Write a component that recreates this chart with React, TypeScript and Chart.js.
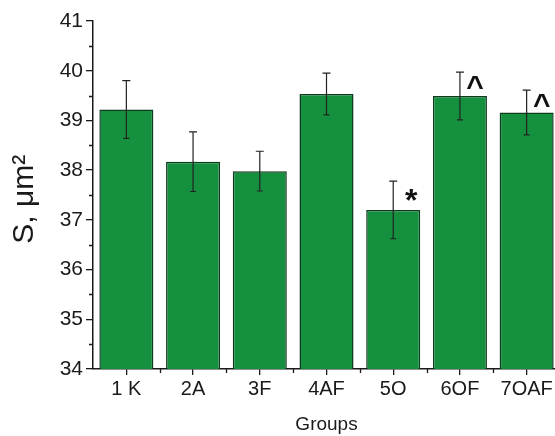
import React, { useEffect, useRef } from "react";
import { Chart, registerables } from "chart.js";

Chart.register(...registerables);

const categories = ["1 K", "2A", "3F", "4AF", "5O", "6OF", "7OAF"];
const means = [39.22, 38.17, 37.98, 39.53, 37.2, 39.49, 39.16];
const errors = [0.58, 0.6, 0.4, 0.42, 0.58, 0.48, 0.45];
const marks = ["", "", "", "", "*", "^", "^"];
const yMin = 34;
const yMax = 41;

const FONT = "Arial, 'Liberation Sans', Helvetica, sans-serif";
const INK = "#1a1a1a";

const extrasPlugin = {
  id: "extras",
  afterDatasetsDraw(chart: any) {
    const ctx = chart.ctx;
    const y = chart.scales.y;
    const meta = chart.getDatasetMeta(0);
    ctx.save();
    ctx.strokeStyle = "#222";
    ctx.lineWidth = 1.2;
    meta.data.forEach((bar: any, i: number) => {
      const cx = bar.x;
      const top = y.getPixelForValue(means[i] + errors[i]);
      const bot = y.getPixelForValue(means[i] - errors[i]);
      ctx.beginPath();
      ctx.moveTo(cx, top);
      ctx.lineTo(cx, bot);
      ctx.moveTo(cx - 4, top);
      ctx.lineTo(cx + 4, top);
      ctx.moveTo(cx - 3, bot);
      ctx.lineTo(cx + 3, bot);
      ctx.stroke();
      if (marks[i]) {
        const isStar = marks[i] === "*";
        const fs = isStar ? 32 : 30;
        ctx.fillStyle = "#111";
        ctx.font = `bold ${fs}px ${FONT}`;
        ctx.textAlign = "center";
        ctx.textBaseline = "alphabetic";
        const dy = isStar ? 7 : 2;
        ctx.fillText(marks[i], cx + (isStar ? 18 : 15), top + dy + 0.716 * fs);
      }
    });
    ctx.restore();
  },
  afterDraw(chart: any) {
    const ctx = chart.ctx;
    const x = chart.scales.x;
    const y = chart.scales.y;
    ctx.save();
    ctx.strokeStyle = INK;
    ctx.lineWidth = 1.3;
    ctx.beginPath();
    for (let v = yMin + 0.5; v < yMax; v += 1) {
      const py = Math.round(y.getPixelForValue(v)) + 0.5;
      ctx.moveTo(x.left - 4, py);
      ctx.lineTo(x.left, py);
    }
    const n = categories.length;
    for (let i = 1; i < n + 1; i++) {
      const px = Math.round(x.getPixelForValue(i - 0.5)) + 0.5;
      ctx.moveTo(px, y.bottom);
      ctx.lineTo(px, y.bottom + 4);
    }
    ctx.stroke();
    ctx.restore();
  },
};

export default function App() {
  const ref = useRef<HTMLCanvasElement | null>(null);
  useEffect(() => {
    if (!ref.current) return;
    const chart = new Chart(ref.current, {
      type: "bar",
      data: {
        labels: categories,
        datasets: [
          {
            data: means,
            backgroundColor: "#15903e",
            borderColor: "#0e3a1d",
            borderWidth: 1.5,
            borderSkipped: "start",
            categoryPercentage: 1,
            barPercentage: 0.81,
          },
        ],
      },
      options: {
        animation: false,
        responsive: false,
        maintainAspectRatio: false,
        events: [],
        layout: { padding: { left: 0, right: 15, top: 21, bottom: 0 } },
        plugins: {
          legend: { display: false },
          tooltip: { enabled: false },
        },
        scales: {
          x: {
            type: "category",
            offset: true,
            grid: {
              display: true,
              drawOnChartArea: false,
              drawTicks: true,
              tickLength: 6,
              offset: false,
              color: INK,
              lineWidth: 1.3,
            },
            border: { display: true, color: INK, width: 1.5 },
            ticks: { color: INK, font: { family: FONT, size: 20 }, padding: 2, maxRotation: 0 },
            title: {
              display: true,
              text: "Groups",
              color: INK,
              font: { family: FONT, size: 19 },
              padding: { top: 0, bottom: 0 },
            },
            afterFit: (s: any) => {
              s.height = 67;
            },
          },
          y: {
            min: yMin,
            max: yMax,
            grid: {
              display: true,
              drawOnChartArea: false,
              drawTicks: true,
              tickLength: 7,
              color: INK,
              lineWidth: 1.3,
            },
            border: { display: true, color: INK, width: 1.5 },
            ticks: { stepSize: 1, color: INK, font: { family: FONT, size: 21 }, padding: 3 },
            title: {
              display: true,
              text: "S, μm² ",
              color: INK,
              font: { family: FONT, size: 30 },
              padding: { top: 7, bottom: 0 },
            },
            afterFit: (s: any) => {
              s.width = 93;
            },
          },
        },
      },
      plugins: [extrasPlugin],
    } as any);
    return () => chart.destroy();
  }, []);
  return (
    <div style={{ position: "fixed", left: 0, top: 0, width: 555, height: 436, overflow: "hidden", background: "#fff" }}>
      <canvas ref={ref} width={575} height={436} style={{ display: "block", width: 575, height: 436 }} />
    </div>
  );
}
